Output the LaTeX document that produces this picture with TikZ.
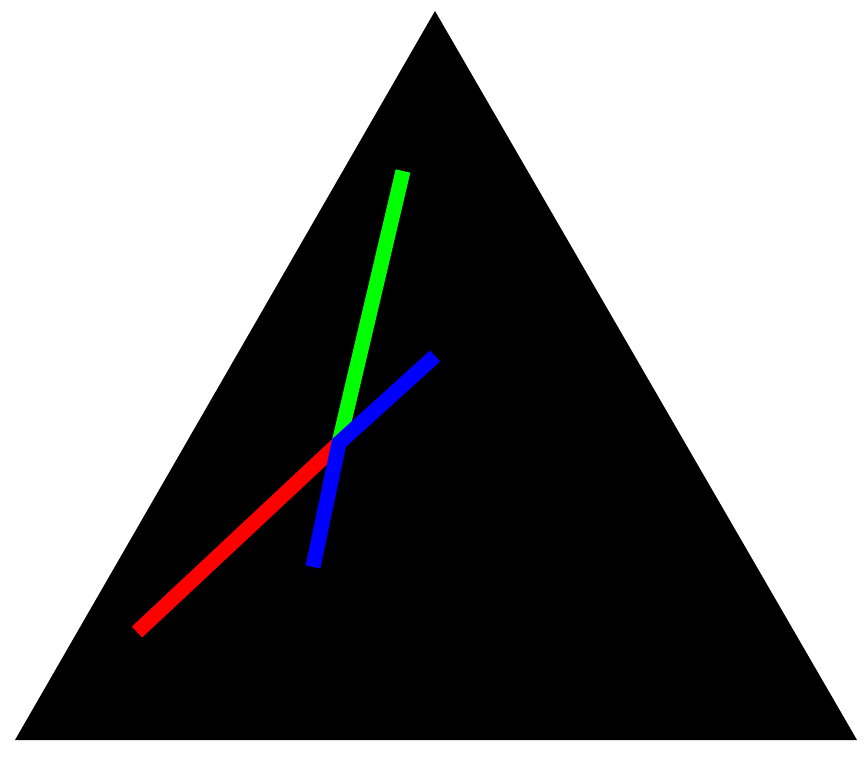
\documentclass[tikz,border=0pt]{standalone}
\begin{document}
\begin{tikzpicture}[x=1pt,y=-1pt,
  seg/.style={line width=15pt,line cap=butt,line join=miter}]
\useasboundingbox (0,0) rectangle (867,758);
\coordinate (A) at (435,11);
\coordinate (B) at (15,740);
\coordinate (C) at (857,740);
\fill[black] (A) -- (B) -- (C) -- cycle;
\coordinate (P) at (339,443);
\coordinate (R) at (137,632);
\coordinate (G) at (403,171);
\coordinate (U) at (435,356);
\coordinate (D) at (313,567);
\draw[seg,red] (R) -- (P);
\draw[seg,green] (G) -- (P);
\draw[seg,blue] (U) -- (P) -- (D);
\end{tikzpicture}
\end{document}
